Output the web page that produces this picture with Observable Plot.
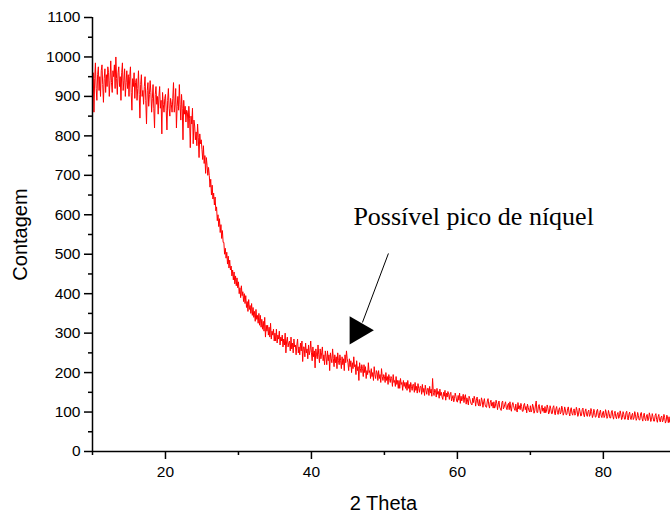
<!DOCTYPE html>
<html>
<head>
<meta charset="utf-8">
<script src="https://cdn.jsdelivr.net/npm/d3@7"></script>
<script src="https://cdn.jsdelivr.net/npm/@observablehq/plot@0.6"></script>
<style>
  html, body { margin: 0; padding: 0; background: #fff; }
  #chart { width: 670px; height: 516px; }
</style>
</head>
<body>
<div id="chart"></div>
<script>
// 2θ sampling: start and step (degrees)
const thetaStart = 10;
const thetaStep = 0.1;

// Counts, one value per 0.1° from 10° to 89.2° (one row per degree)
const counts = [
  905, 960, 860, 945, 985, 920, 890, 955, 975, 915,
  950, 900, 965, 980, 930, 885, 945, 970, 910, 955,
  925, 975, 960, 900, 940, 990, 935, 910, 965, 950,
  980, 920, 1000, 945, 905, 960, 975, 925, 950, 890,
  960, 985, 915, 940, 970, 900, 935, 965, 920, 955,
  900, 950, 975, 910, 865, 945, 925, 960, 895, 935,
  945, 890, 920, 965, 905, 845, 930, 955, 900, 915,
  880, 925, 950, 890, 830, 915, 935, 875, 905, 940,
  910, 860, 895, 930, 870, 820, 905, 925, 880, 900,
  855, 900, 925, 870, 890, 805, 910, 880, 860, 895,
  905, 865, 815, 890, 920, 870, 850, 895, 880, 860,
  895, 935, 860, 880, 920, 820, 875, 900, 865, 930,
  880, 840, 905, 870, 790, 890, 855, 875, 835, 865,
  860, 820, 875, 845, 770, 850, 830, 870, 780, 840,
  825, 790, 810, 775, 830, 795, 745, 805, 780, 790,
  765, 740, 775, 730, 750, 705, 745, 725, 700, 720,
  700, 670, 690, 650, 675, 640, 655, 625, 645, 610,
  620, 585, 600, 570, 590, 555, 575, 540, 560, 530,
  530, 500, 515, 490, 505, 475, 495, 465, 485, 460,
  470, 445, 460, 435, 455, 425, 445, 420, 440, 415,
  430, 400, 415, 390, 420, 395, 405, 380, 400, 375,
  395, 365, 380, 355, 385, 360, 370, 350, 375, 345,
  365, 340, 355, 330, 360, 335, 345, 325, 350, 320,
  345, 315, 335, 310, 330, 305, 340, 290, 320, 305,
  320, 295, 315, 290, 325, 285, 305, 295, 310, 280,
  300, 280, 310, 275, 295, 285, 305, 270, 290, 280,
  295, 265, 285, 270, 300, 250, 280, 290, 265, 275,
  280, 255, 290, 260, 275, 250, 285, 265, 270, 245,
  270, 285, 250, 265, 245, 275, 255, 280, 228, 265,
  265, 240, 275, 250, 260, 235, 270, 245, 255, 280,
  250, 230, 265, 240, 255, 212, 260, 245, 235, 270,
  245, 225, 260, 235, 250, 265, 230, 245, 220, 255,
  240, 220, 255, 230, 245, 205, 250, 235, 225, 260,
  235, 215, 245, 225, 240, 210, 250, 230, 220, 245,
  230, 210, 240, 220, 235, 205, 245, 225, 255, 235,
  225, 205, 235, 215, 230, 200, 225, 210, 240, 215,
  220, 195, 230, 205, 215, 180, 225, 210, 200, 220,
  210, 190, 220, 200, 215, 185, 205, 195, 225, 200,
  205, 185, 210, 190, 200, 180, 215, 195, 185, 205,
  200, 180, 205, 185, 195, 175, 210, 190, 180, 195,
  190, 175, 200, 180, 190, 170, 195, 185, 175, 190,
  185, 165, 195, 175, 180, 165, 190, 170, 180, 160,
  180, 160, 185, 170, 175, 155, 180, 165, 175, 160,
  175, 155, 180, 160, 170, 150, 175, 165, 155, 170,
  170, 150, 175, 155, 165, 148, 172, 160, 150, 165,
  165, 145, 170, 150, 160, 142, 168, 155, 145, 160,
  160, 142, 165, 148, 158, 140, 185, 150, 142, 158,
  155, 138, 160, 145, 152, 135, 158, 142, 150, 138,
  132, 150, 140, 155, 130, 148, 138, 152, 145, 132,
  146, 150, 128, 135, 142, 126, 134, 148, 140, 128,
  125, 142, 130, 148, 122, 140, 128, 136, 145, 124,
  138, 144, 120, 136, 128, 118, 140, 134, 126, 120,
  118, 135, 124, 140, 132, 115, 130, 138, 122, 116,
  132, 115, 120, 136, 128, 112, 126, 134, 118, 113,
  112, 128, 134, 118, 110, 125, 130, 115, 124, 110,
  126, 110, 115, 130, 122, 106, 120, 128, 112, 108,
  104, 124, 128, 108, 112, 120, 126, 110, 106, 118,
  122, 106, 126, 110, 102, 118, 124, 116, 108, 104,
  120, 104, 100, 124, 108, 116, 106, 122, 114, 102,
  102, 118, 122, 106, 114, 98, 120, 112, 104, 100,
  116, 100, 105, 120, 113, 97, 103, 118, 128, 99,
  99, 115, 119, 104, 96, 111, 117, 102, 110, 98,
  114, 98, 102, 118, 110, 95, 100, 116, 108, 96,
  96, 112, 116, 100, 93, 108, 114, 99, 94, 106,
  111, 95, 99, 115, 107, 92, 98, 113, 105, 93,
  94, 109, 113, 98, 90, 105, 111, 96, 92, 104,
  108, 92, 96, 112, 104, 89, 95, 110, 102, 90,
  91, 106, 110, 95, 88, 102, 108, 93, 89, 101,
  105, 89, 93, 109, 101, 86, 92, 107, 99, 87,
  88, 103, 107, 92, 85, 99, 105, 90, 86, 98,
  102, 86, 90, 106, 98, 84, 89, 104, 96, 85,
  85, 100, 104, 89, 82, 96, 102, 88, 83, 95,
  99, 84, 88, 103, 95, 81, 86, 101, 94, 82,
  82, 98, 102, 86, 80, 94, 100, 85, 81, 92,
  97, 81, 85, 101, 93, 79, 84, 99, 91, 80,
  80, 95, 99, 84, 77, 91, 97, 82, 78, 90,
  94, 78, 82, 98, 90, 76, 81, 96, 88, 77,
  77, 92, 96, 81, 74, 88, 94, 79, 75, 87,
  90, 75, 79, 94, 86, 72, 77, 92, 85, 73,
  88, 74, 82
];

const xMajorTicks = [20, 40, 60, 80];
const xMinorTicks = [10, 30, 50, 70];
const yMajorTicks = [0, 100, 200, 300, 400, 500, 600, 700, 800, 900, 1000, 1100];
const yMinorTicks = [50, 150, 250, 350, 450, 550, 650, 750, 850, 950, 1050];

const xLabel = "2 Theta";
const yLabel = "Contagem";
const noteText = "Possível pico de níquel";
// annotation anchor points (data coordinates)
const notePos = [{x: 45.75, y: 573}];
const noteArrow = [{x1: 50.55, y1: 502, x2: 46.99, y2: 327}];
const noteHead = [{x: 46.34, y: 307}];

const data = counts.map((y, i) => ({x: thetaStart + i * thetaStep, y}));

const chart = Plot.plot({
  width: 670,
  height: 516,
  marginLeft: 92,
  marginRight: 0,
  marginTop: 17,
  marginBottom: 65,
  style: {fontFamily: "'Liberation Sans', Arial, sans-serif", background: "#fff", color: "#000"},
  x: {domain: [10, 89.2]},
  y: {domain: [0, 1100]},
  marks: [
    Plot.line(data, {x: "x", y: "y", stroke: "#ff0000", strokeWidth: 1}),
    Plot.ruleX([10], {stroke: "#000", strokeWidth: 1.5}),
    Plot.ruleY([0], {stroke: "#000", strokeWidth: 1.5}),
    Plot.axisY({ticks: yMajorTicks, tickFormat: d => String(d), tickSize: 8, tickPadding: 4, fontSize: 15.5, strokeWidth: 1.5, label: null}),
    Plot.axisY({ticks: yMinorTicks, tickSize: 4, text: null, strokeWidth: 1.5, label: null}),
    Plot.axisX({ticks: xMajorTicks, tickFormat: d => String(d), tickSize: 8, tickPadding: 6, fontSize: 15.5, strokeWidth: 1.5, label: null}),
    Plot.axisX({ticks: xMinorTicks, tickSize: 4, text: null, strokeWidth: 1.5, label: null}),
    Plot.text([yLabel], {frameAnchor: "left", dx: -72, rotate: -90, textAnchor: "middle", lineAnchor: "middle", fontSize: 20, fill: "#000"}),
    Plot.text([xLabel], {frameAnchor: "bottom", dx: 2, dy: 52, textAnchor: "middle", lineAnchor: "middle", fontSize: 20, fill: "#000"}),
    Plot.text(notePos, {x: "x", y: "y", text: () => noteText, textAnchor: "start", lineAnchor: "bottom",
      fontFamily: "'Liberation Serif', 'Times New Roman', serif", fontSize: 26, fill: "#000"}),
    Plot.link(noteArrow, {x1: "x1", y1: "y1", x2: "x2", y2: "y2", stroke: "#000", strokeWidth: 1}),
    Plot.dot(noteHead, {x: "x", y: "y", symbol: "triangle", r: 10.4, rotate: 90, fill: "#000", stroke: "none"})
  ]
});
document.getElementById("chart").appendChild(chart);
</script>
</body>
</html>
